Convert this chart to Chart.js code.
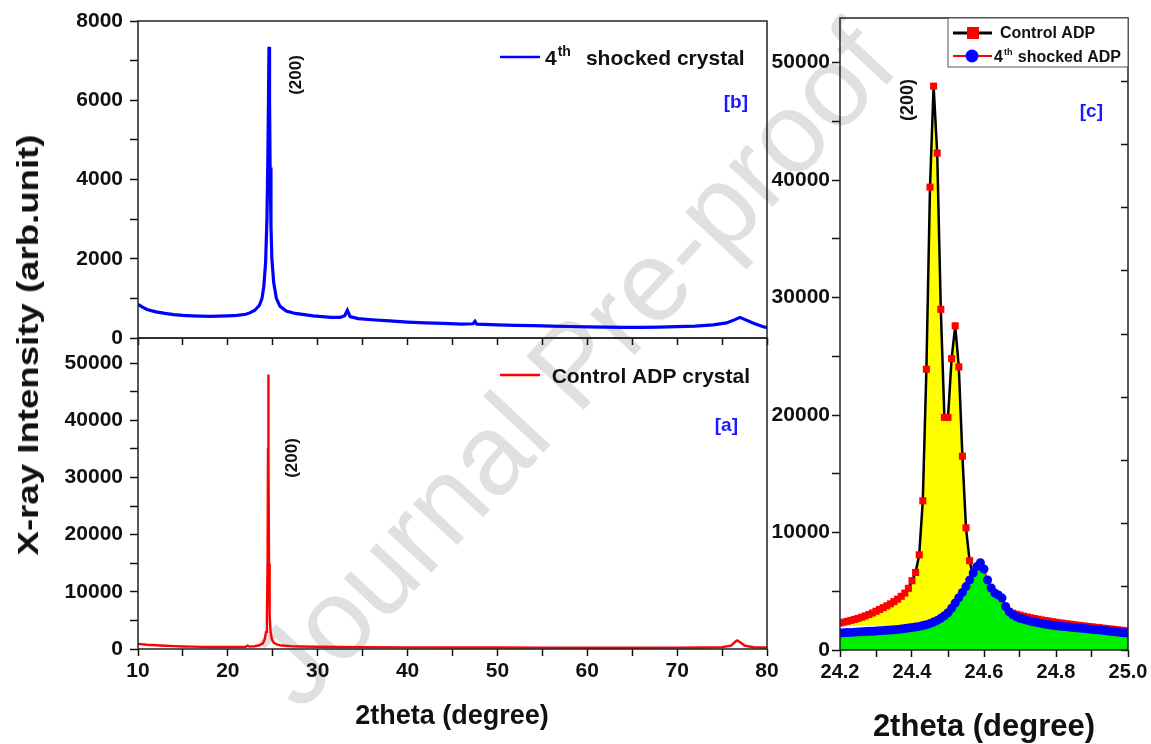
<!DOCTYPE html>
<html>
<head>
<meta charset="utf-8">
<title>XRD of ADP crystal</title>
<script src="https://cdn.jsdelivr.net/npm/chart.js@4.4.0/dist/chart.umd.min.js"></script>
<style>
  body { margin: 0; background: #fff; width: 1151px; height: 744px; overflow: hidden; position: relative; font-family: "Liberation Sans", Arial, sans-serif; }
  .box { position: absolute; }
  .ttl { position: absolute; font-weight: bold; color: #111; white-space: nowrap; }
  #mark { position: absolute; left: 572px; top: 364px; font-size: 114px; color: #e0e0e0; white-space: nowrap; transform: translate(-50%, -50%) rotate(-47deg); }
</style>
</head>
<body>
<div id="mark">Journal Pre-proof</div>
<div class="box" style="left:0;top:0;width:780px;height:345px"><canvas id="chart-b"></canvas></div>
<div class="box" style="left:0;top:330px;width:780px;height:414px"><canvas id="chart-a"></canvas></div>
<div class="box" style="left:770px;top:0;width:381px;height:744px"><canvas id="chart-c"></canvas></div>
<div class="ttl" style="left:28px;top:345px;font-size:30px;transform:translate(-50%,-50%) rotate(-90deg) scaleX(1.22)">X-ray Intensity (arb.unit)</div>
<div class="ttl" style="left:452px;top:715px;font-size:27px;transform:translate(-50%,-50%)">2theta (degree)</div>
<div class="ttl" style="left:984px;top:726px;font-size:31px;transform:translate(-50%,-50%)">2theta (degree)</div>
<script>
// [b] 4th shocked crystal, full scan
const thetaShocked = [10, 10.5, 11, 12, 13, 14, 15, 16, 17, 18, 19, 20, 21, 22, 22.5, 23, 23.5, 23.8, 24.0, 24.2,
	24.35, 24.45, 24.52, 24.58, 24.64, 24.7, 24.8, 24.9, 25.1, 25.4, 25.8, 26.5, 27.5, 28.5, 29.5, 30.5, 31.5, 32.5, 33.0, 33.3,
	33.6, 34.5, 36, 38, 40, 42, 44, 46, 47.3, 47.5, 47.7, 50, 52, 54, 56, 58, 60, 62, 64, 66,
	68, 70, 72, 74, 75.5, 76.5, 77.0, 77.5, 78.5, 79.5, 80];
const countsShocked = [850, 780, 720, 660, 620, 590, 570, 560, 550, 545, 550, 560, 570, 600, 640, 700, 820, 1000, 1300, 1900,
	3000, 4500, 6000, 7350, 6000, 4300, 2800, 2000, 1400, 1000, 800, 680, 620, 590, 560, 540, 520, 520, 560, 700,
	540, 490, 460, 430, 400, 380, 370, 350, 360, 420, 350, 330, 320, 310, 300, 290, 280, 275, 270, 270,
	275, 285, 300, 330, 380, 470, 520, 470, 370, 290, 260];

// [a] control crystal, full scan
const thetaControl = [10, 11, 12, 13, 14, 15, 16, 17, 18, 19, 20, 21, 22, 22.2, 22.4, 23, 23.5, 23.9, 24.1, 24.25,
	24.35, 24.42, 24.47, 24.5, 24.53, 24.58, 24.65, 24.75, 24.9, 25.1, 25.5, 26, 27, 28, 30, 35, 40, 45, 50, 55,
	60, 65, 70, 73, 75, 76, 76.5, 76.7, 77, 77.5, 78.5, 80];
const countsControl = [900, 750, 650, 560, 500, 450, 410, 380, 360, 350, 350, 360, 400, 600, 420, 480, 650, 1000, 1700, 3000,
	6000, 15000, 35000, 48000, 35000, 15000, 6000, 3000, 1700, 1100, 750, 600, 500, 450, 400, 330, 290, 270, 250, 240,
	230, 230, 240, 260, 330, 600, 1300, 1500, 1200, 600, 300, 250];

// [c] zoom on the (200) reflection
const zoomTheta = [24.20, 24.21, 24.22, 24.23, 24.24, 24.25, 24.26, 24.27, 24.28, 24.29,
	24.30, 24.31, 24.32, 24.33, 24.34, 24.35, 24.36, 24.37, 24.38, 24.39,
	24.40, 24.41, 24.42, 24.43, 24.44, 24.45, 24.46, 24.47, 24.48, 24.49,
	24.50, 24.51, 24.52, 24.53, 24.54, 24.55, 24.56, 24.57, 24.58, 24.59,
	24.60, 24.61, 24.62, 24.63, 24.64, 24.65, 24.66, 24.67, 24.68, 24.69,
	24.70, 24.71, 24.72, 24.73, 24.74, 24.75, 24.76, 24.77, 24.78, 24.79,
	24.80, 24.81, 24.82, 24.83, 24.84, 24.85, 24.86, 24.87, 24.88, 24.89,
	24.90, 24.91, 24.92, 24.93, 24.94, 24.95, 24.96, 24.97, 24.98, 24.99, 25.00];
const zoomControl = [2300, 2370, 2440, 2520, 2600, 2690, 2790, 2900, 3020, 3150,
	3300, 3450, 3600, 3760, 3930, 4120, 4330, 4570, 4850, 5250,
	5900, 6600, 8100, 12700, 23900, 39400, 48000, 42300, 29000, 19800,
	19800, 24800, 27600, 24100, 16500, 10400, 7600, 6300, 5500, 4950,
	4550, 4250, 4000, 3800, 3620, 3470, 3340, 3230, 3130, 3040,
	2960, 2880, 2810, 2740, 2680, 2620, 2560, 2510, 2460, 2410,
	2360, 2310, 2270, 2230, 2190, 2150, 2110, 2070, 2040, 2000,
	1970, 1930, 1900, 1860, 1830, 1790, 1760, 1720, 1690, 1650, 1620];
const zoomShocked = [1450, 1470, 1490, 1500, 1520, 1540, 1550, 1570, 1590, 1600,
	1620, 1640, 1660, 1680, 1700, 1720, 1750, 1780, 1820, 1870,
	1920, 1960, 2010, 2080, 2150, 2250, 2380, 2520, 2700, 2920,
	3170, 3550, 4000, 4450, 4900, 5400, 5950, 6550, 7100, 7430,
	6900, 5960, 5280, 4850, 4680, 4430, 3700, 3260, 3000, 2830,
	2700, 2610, 2530, 2450, 2380, 2310, 2260, 2200, 2150, 2100,
	2060, 2030, 2000, 1970, 1940, 1910, 1880, 1850, 1820, 1790,
	1760, 1730, 1700, 1670, 1640, 1600, 1570, 1530, 1500, 1470, 1440];

// tick positions (labels on every other one)
const ticksB = [0, 1000, 2000, 3000, 4000, 5000, 6000, 7000, 8000];
const ticksBig = [0, 5000, 10000, 15000, 20000, 25000, 30000, 35000, 40000, 45000, 50000];

const FONT = '"Liberation Sans", Arial, sans-serif';
Chart.defaults.font.family = FONT;
Chart.defaults.color = "#111";
Chart.defaults.animation = false;

const tickFont = { family: FONT, size: 21, weight: "bold" };
const pts = (xs, ys) => xs.map((x, i) => ({ x: x, y: ys[i] }));
const every = n => v => (Math.round(v) % n === 0 ? Math.round(v) : "");

// pin axis sizes so the plot boxes land where they should
const fixW = w => s => { s.width = w; s.paddingTop = s.paddingBottom = s.paddingLeft = s.paddingRight = 0; };
const fixH = h => s => { s.height = h; s.paddingTop = s.paddingBottom = s.paddingLeft = s.paddingRight = 0; };

const frame = {
	id: "frame",
	afterDatasetsDraw(chart) {
		const { ctx, chartArea: a } = chart;
		ctx.save();
		ctx.strokeStyle = "#222";
		ctx.lineWidth = 1.5;
		ctx.strokeRect(a.left, a.top, a.right - a.left, a.bottom - a.top);
		ctx.restore();
	}
};

function text(ctx, str, x, y, size, color, align) {
	ctx.save();
	ctx.font = `bold ${size}px ${FONT}`;
	ctx.fillStyle = color || "#111";
	ctx.textAlign = align || "left";
	ctx.textBaseline = "alphabetic";
	ctx.fillText(str, x, y);
	ctx.restore();
}

function upText(ctx, str, cx, cy, size) {
	ctx.save();
	ctx.translate(cx, cy);
	ctx.rotate(-Math.PI / 2);
	ctx.font = `bold ${size}px ${FONT}`;
	ctx.fillStyle = "#111";
	ctx.textAlign = "center";
	ctx.textBaseline = "middle";
	ctx.fillText(str, 0, 0);
	ctx.restore();
}

// "4" + superscript "th" + rest, starting at x
function supText(ctx, x, y, size, supSize, rest, gap) {
	ctx.save();
	ctx.font = `bold ${size}px ${FONT}`;
	const w4 = ctx.measureText("4").width;
	ctx.font = `bold ${supSize}px ${FONT}`;
	const wth = ctx.measureText("th").width;
	ctx.restore();
	text(ctx, "4", x, y, size);
	text(ctx, "th", x + w4 + 1, y - size * 0.45, supSize);
	text(ctx, rest, x + w4 + wth + gap, y, size);
}

function line(ctx, x1, x2, y, color, w) {
	ctx.save();
	ctx.strokeStyle = color;
	ctx.lineWidth = w;
	ctx.beginPath();
	ctx.moveTo(x1, y);
	ctx.lineTo(x2, y);
	ctx.stroke();
	ctx.restore();
}

function xAxis(hidden, heightFix) {
	return {
		type: "linear", min: 10, max: 80,
		ticks: { display: !hidden, stepSize: 5, autoSkip: false, maxRotation: 0, padding: 3, font: tickFont, callback: every(10) },
		grid: { drawOnChartArea: false, tickLength: 7, tickColor: "#111", tickWidth: 1.5 },
		border: { display: false },
		afterFit: fixH(heightFix)
	};
}

function yAxis(max, tickList, labelEvery, pad, width) {
	return {
		min: 0, max: max,
		afterBuildTicks: s => { s.ticks = tickList.map(v => ({ value: v })); },
		ticks: { autoSkip: false, padding: pad, font: tickFont, callback: every(labelEvery) },
		grid: { drawOnChartArea: false, tickLength: 8, tickColor: "#111", tickWidth: 1.5 },
		border: { display: false },
		afterFit: fixW(width)
	};
}

// [b] 4th shocked crystal
new Chart("chart-b", {
	type: "line",
	data: {
		datasets: [{
			data: pts(thetaShocked, countsShocked),
			borderColor: "#0000ff", borderWidth: 3.2, pointRadius: 0, tension: 0
		}]
	},
	options: {
		responsive: true, maintainAspectRatio: false,
		layout: { padding: { left: 0, top: 21, right: 13, bottom: 7 } },
		plugins: { legend: { display: false }, tooltip: { enabled: false } },
		scales: {
			x: xAxis(true, 0),
			y: yAxis(8000, ticksB, 2000, 7, 138)
		}
	},
	plugins: [frame, {
		id: "notesB",
		afterDraw(chart) {
			const ctx = chart.ctx;
			const x = chart.scales.x;
			line(ctx, 500, 540, 57, "#0000ff", 2.5);
			supText(ctx, 545, 65, 21, 14, "shocked crystal", 16);
			text(ctx, "[b]", 748, 108, 19, "#1a1aff", "right");
			upText(ctx, "(200)", x.getPixelForValue(24.6) + 27, 75, 17);
		}
	}]
});

// [a] control crystal
new Chart("chart-a", {
	type: "line",
	data: {
		datasets: [{
			data: pts(thetaControl, countsControl),
			borderColor: "#ff0000", borderWidth: 2.4, pointRadius: 0, tension: 0
		}]
	},
	options: {
		responsive: true, maintainAspectRatio: false,
		layout: { padding: { left: 0, top: 8, right: 13, bottom: 35 } },
		plugins: { legend: { display: false }, tooltip: { enabled: false } },
		scales: {
			x: xAxis(false, 60),
			y: yAxis(54400, ticksBig, 10000, 7, 138)
		}
	},
	plugins: [frame, {
		id: "notesA",
		afterDraw(chart) {
			const ctx = chart.ctx;
			const x = chart.scales.x;
			line(ctx, 500, 540, 45, "#ff0000", 2.5);
			text(ctx, "Control ADP crystal", 750, 53, 21, "#111", "right");
			text(ctx, "[a]", 738, 101, 19, "#1a1aff", "right");
			upText(ctx, "(200)", x.getPixelForValue(24.5) + 24, 128, 17);
		}
	}]
});

// [c] zoom on (200)
new Chart("chart-c", {
	type: "line",
	data: {
		datasets: [{
			label: "4th shocked ADP",
			data: pts(zoomTheta, zoomShocked),
			order: 1,
			borderColor: "#ff0000", borderWidth: 1.5, tension: 0,
			pointStyle: "circle", pointRadius: 4.5, pointBorderWidth: 0,
			pointBackgroundColor: "#0000ff", pointBorderColor: "#0000ff",
			fill: "origin", backgroundColor: "#00ee00"
		}, {
			label: "Control ADP",
			data: pts(zoomTheta, zoomControl),
			order: 2,
			borderColor: "#000", borderWidth: 2.5, tension: 0,
			pointStyle: "rect", pointRadius: 5, pointBorderWidth: 0,
			pointBackgroundColor: "#ff0000", pointBorderColor: "#ff0000",
			fill: { target: { value: 2050 }, above: "#ffff00", below: "rgba(0,0,0,0)" }
		}]
	},
	options: {
		responsive: true, maintainAspectRatio: false,
		layout: { padding: { left: 0, top: 18, right: 23, bottom: 34 } },
		plugins: { legend: { display: false }, tooltip: { enabled: false } },
		scales: {
			x: {
				type: "linear", min: 24.2, max: 25.0,
				ticks: {
					stepSize: 0.1, autoSkip: false, maxRotation: 0, padding: 3, font: { family: FONT, size: 20, weight: "bold" },
					callback: v => { const t = Math.round(v * 10); return t % 2 === 0 ? (t / 10).toFixed(1) : ""; }
				},
				grid: { drawOnChartArea: false, tickLength: 7, tickColor: "#111", tickWidth: 1.5 },
				border: { display: false },
				afterFit: fixH(60)
			},
			y: yAxis(53800, ticksBig, 10000, 2, 70),
			y2: {
				position: "right", min: 0, max: 10,
				ticks: { display: false, stepSize: 1, autoSkip: false },
				grid: { drawOnChartArea: false, tickLength: -7, tickColor: "#111", tickWidth: 1.5 },
				border: { display: false },
				afterFit: fixW(0)
			}
		}
	},
	plugins: [frame, {
		id: "notesC",
		afterDraw(chart) {
			const ctx = chart.ctx;
			const a = chart.chartArea;
			const x = chart.scales.x;
			// legend box
			const bx = a.right - 180, by = a.top;
			ctx.save();
			ctx.fillStyle = "#fff";
			ctx.fillRect(bx, by, 180, 49);
			ctx.strokeStyle = "#555";
			ctx.lineWidth = 1;
			ctx.strokeRect(bx, by, 180, 49);
			ctx.restore();
			line(ctx, bx + 5, bx + 44, by + 15, "#000", 3);
			ctx.fillStyle = "#ff0000";
			ctx.fillRect(bx + 19, by + 9, 12, 12);
			text(ctx, "Control ADP", bx + 52, by + 20, 16);
			line(ctx, bx + 5, bx + 44, by + 38, "#ff0000", 2);
			ctx.fillStyle = "#0000ff";
			ctx.beginPath();
			ctx.arc(bx + 24, by + 38, 6.5, 0, Math.PI * 2);
			ctx.fill();
			supText(ctx, bx + 46, by + 44, 16, 9, " shocked ADP", 2);
			text(ctx, "[c]", 333, 117, 19, "#1a1aff", "right");
			upText(ctx, "(200)", x.getPixelForValue(24.46) - 26, 100, 18);
		}
	}]
});
</script>
</body>
</html>
